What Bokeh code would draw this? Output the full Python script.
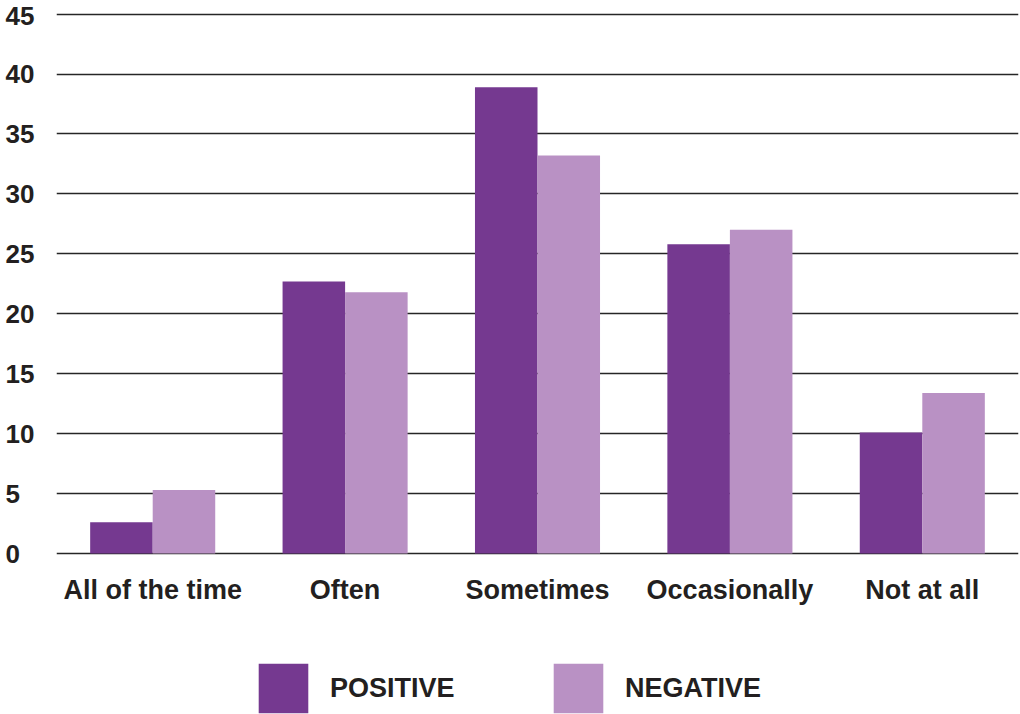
from bokeh.plotting import figure
from bokeh.models import Range1d, FactorRange, Legend, LegendItem, ColumnDataSource
from bokeh.transform import dodge
from bokeh.embed import file_html
from bokeh.resources import INLINE

categories = ["All of the time", "Often", "Sometimes", "Occasionally", "Not at all"]
positive = [2.6, 22.7, 38.9, 25.8, 10.1]
negative = [5.3, 21.8, 33.2, 27.0, 13.4]
series_names = ["POSITIVE", "NEGATIVE"]
y_ticks = [0, 5, 10, 15, 20, 25, 30, 35, 40, 45]

POS_COLOR = "#753990"
NEG_COLOR = "#b991c4"
TEXT_COLOR = "#231f20"
FONT = "Liberation Sans"

source = ColumnDataSource(dict(cat=categories, pos=positive, neg=negative))

# frame runs from canvas top (10px border) to the canvas bottom; the area below
# zero holds the category labels and the legend
p = figure(
    x_range=FactorRange(*categories, range_padding=0),
    y_range=Range1d(-13.43, 45.3),
    width=1020, height=714,
    output_backend="svg", toolbar_location=None,
    min_border_left=56, min_border_right=2, min_border_top=10, min_border_bottom=0,
)
p.outline_line_color = None
p.background_fill_color = "white"
p.border_fill_color = "white"

r_pos = p.vbar(x=dodge("cat", -0.1625, range=p.x_range), top="pos", bottom=0, width=0.325,
               source=source, fill_color=POS_COLOR, line_color=None)
r_neg = p.vbar(x=dodge("cat", 0.1625, range=p.x_range), top="neg", bottom=0, width=0.325,
               source=source, fill_color=NEG_COLOR, line_color=None)

p.xgrid.grid_line_color = None
p.ygrid.grid_line_color = "#262626"
p.ygrid.grid_line_width = 1.5
p.yaxis.ticker = y_ticks
# single-digit labels are left-aligned with the two-digit ones in the original
p.yaxis.major_label_overrides = {t: f"{t}\u2007" for t in y_ticks if t < 10}

for ax in (p.xaxis[0], p.yaxis[0]):
    ax.axis_line_color = None
    ax.major_tick_line_color = None
    ax.minor_tick_line_color = None
    ax.major_tick_out = 0
    ax.major_tick_in = 0
    ax.major_label_text_font = FONT
    ax.major_label_text_font_style = "bold"
    ax.major_label_text_color = TEXT_COLOR

p.xaxis.fixed_location = 0
p.yaxis.major_label_text_font_size = "26px"
p.yaxis.major_label_standoff = 22
p.xaxis.major_label_text_font_size = "27px"
p.xaxis.major_label_standoff = 21

legend = Legend(
    items=[LegendItem(label=series_names[0], renderers=[r_pos]),
           LegendItem(label=series_names[1], renderers=[r_neg])],
    orientation="horizontal",
    location=(196, -5),
    glyph_width=62, glyph_height=62,
    label_standoff=16, label_width=217, spacing=0,
    padding=0, margin=0,
    border_line_color=None, background_fill_alpha=0,
    label_text_font=FONT, label_text_font_style="bold",
    label_text_font_size="27px", label_text_color=TEXT_COLOR,
)
p.add_layout(legend, "center")

open("out.html", "w").write(file_html(p, INLINE))
